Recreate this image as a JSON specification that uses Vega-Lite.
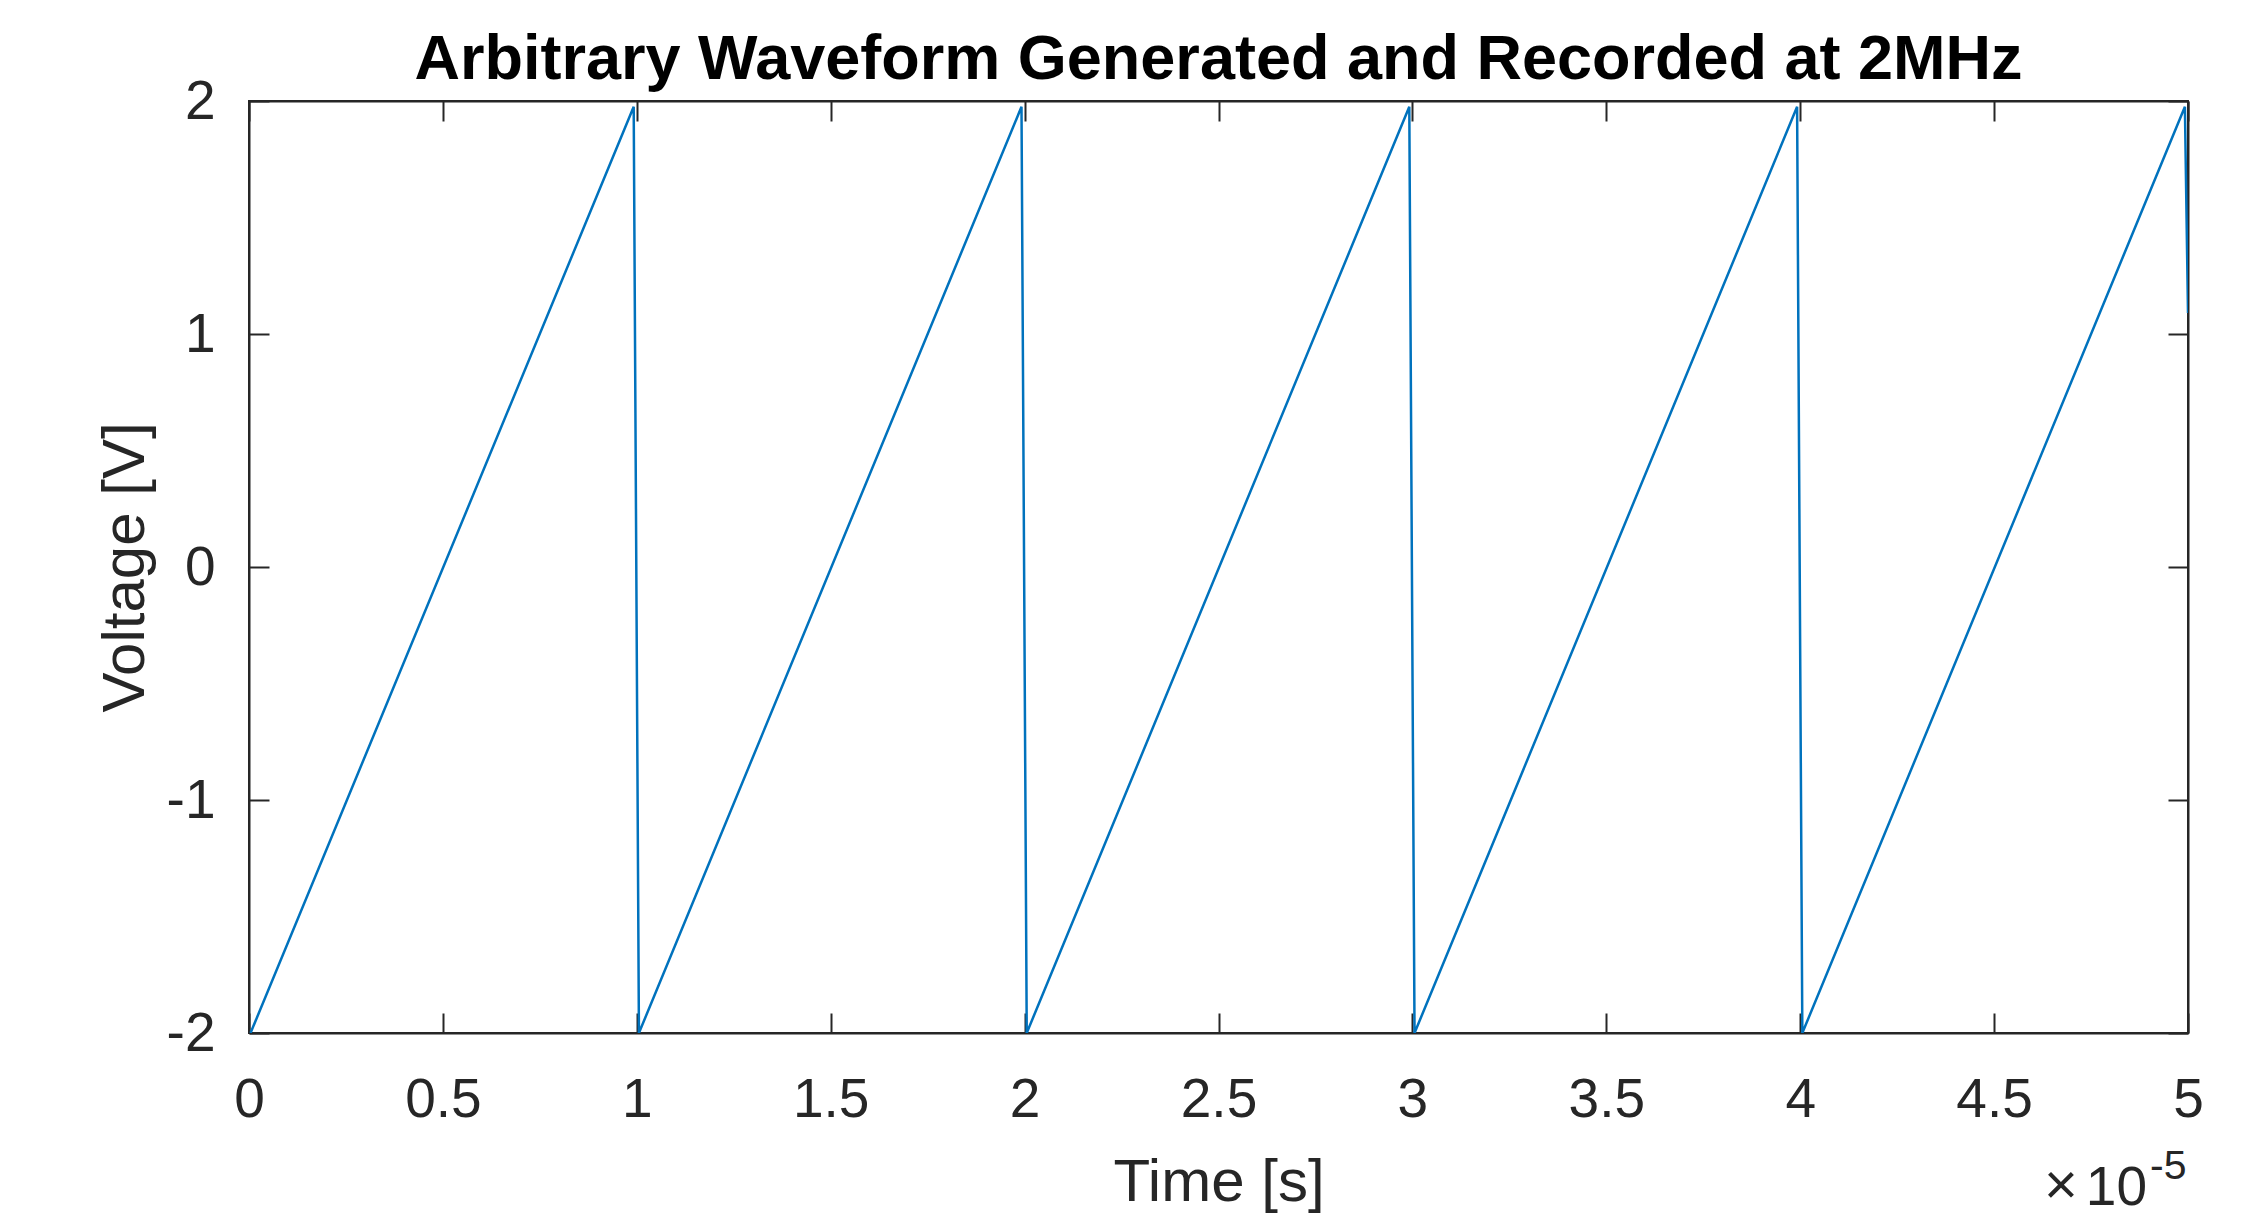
{
  "$schema": "https://vega.github.io/schema/vega-lite/v6.json",
  "width": 1939,
  "height": 932,
  "autosize": "none",
  "padding": {"left": 249, "top": 101, "right": 55, "bottom": 184},
  "background": "white",
  "title": {
    "text": "Arbitrary Waveform Generated and Recorded at 2MHz",
    "font": "Liberation Sans",
    "fontSize": 63,
    "fontWeight": "bold",
    "color": "#000000",
    "anchor": "middle",
    "baseline": "alphabetic",
    "offset": 21,
    "dy": 89
  },
  "data": {
    "values": [
      {"time_s": 4e-8, "voltage_V": -2},
      {"time_s": 9.92e-6, "voltage_V": 1.975},
      {"time_s": 1.0055e-5, "voltage_V": -2},
      {"time_s": 1.992e-5, "voltage_V": 1.975},
      {"time_s": 2.0055e-5, "voltage_V": -2},
      {"time_s": 2.992e-5, "voltage_V": 1.975},
      {"time_s": 3.0055e-5, "voltage_V": -2},
      {"time_s": 3.992e-5, "voltage_V": 1.975},
      {"time_s": 4.0055e-5, "voltage_V": -2},
      {"time_s": 4.992e-5, "voltage_V": 1.975},
      {"time_s": 5.0e-5, "voltage_V": 1.09}
    ]
  },
  "config": {
    "view": {"stroke": "#262626", "strokeWidth": 2},
    "axis": {
      "grid": false,
      "domainColor": "#262626",
      "domainWidth": 2,
      "tickColor": "#262626",
      "tickWidth": 2,
      "labelFont": "Liberation Sans",
      "labelFontSize": 55,
      "labelColor": "#262626",
      "titleFont": "Liberation Sans",
      "titleFontSize": 60,
      "titleColor": "#262626",
      "titleFontWeight": "normal"
    }
  },
  "resolve": {"axis": {"x": "independent", "y": "independent"}},
  "layer": [
    {
      "mark": {"type": "line", "color": "#0072BD", "strokeWidth": 2.5, "clip": true},
      "encoding": {
        "x": {
          "field": "time_s",
          "type": "quantitative",
          "scale": {"domain": [0, 5e-5], "nice": false, "zero": false},
          "axis": {
            "orient": "bottom",
            "title": "Time [s]",
            "values": [0, 5e-6, 1e-5, 1.5e-5, 2e-5, 2.5e-5, 3e-5, 3.5e-5, 4e-5, 4.5e-5, 5e-5],
            "labelExpr": "round(datum.value * 1e6) / 10",
            "tickSize": -20,
            "labelPadding": 60,
            "labelFlush": false,
            "labelOverlap": false,
            "titleX": 969.5,
            "titleY": 167,
            "titleBaseline": "alphabetic"
          }
        },
        "y": {
          "field": "voltage_V",
          "type": "quantitative",
          "scale": {"domain": [-2, 2], "nice": false, "zero": false},
          "axis": {
            "orient": "left",
            "title": "Voltage [V]",
            "values": [-2, -1, 0, 1, 2],
            "labelExpr": "datum.value + ''",
            "tickSize": -20,
            "labelPadding": 54,
            "labelFlush": false,
            "labelOverlap": false,
            "titleX": -106,
            "titleY": 466,
            "titleAngle": -90,
            "titleBaseline": "alphabetic"
          }
        }
      }
    },
    {
      "mark": {"type": "line", "opacity": 0},
      "encoding": {
        "x": {
          "field": "time_s",
          "type": "quantitative",
          "axis": {
            "orient": "top",
            "title": null,
            "labels": false,
            "values": [0, 5e-6, 1e-5, 1.5e-5, 2e-5, 2.5e-5, 3e-5, 3.5e-5, 4e-5, 4.5e-5, 5e-5],
            "tickSize": -20
          }
        },
        "y": {
          "field": "voltage_V",
          "type": "quantitative",
          "axis": {
            "orient": "right",
            "title": null,
            "labels": false,
            "values": [-2, -1, 0, 1, 2],
            "tickSize": -20
          }
        }
      }
    },
    {
      "data": {"values": [{"label": "10"}]},
      "mark": {"type": "text", "font": "Liberation Sans", "fontSize": 55, "color": "#262626", "align": "right", "baseline": "alphabetic", "dx": -41, "dy": 172},
      "encoding": {
        "x": {"datum": 5e-5, "type": "quantitative", "axis": null},
        "y": {"datum": -2, "type": "quantitative", "axis": null},
        "text": {"field": "label"}
      }
    },
    {
      "data": {"values": [{"label": "×"}]},
      "mark": {"type": "text", "font": "Liberation Sans", "fontSize": 58, "fontWeight": "normal", "color": "#262626", "align": "center", "baseline": "alphabetic", "dx": -127, "dy": 171},
      "encoding": {
        "x": {"datum": 5e-5, "type": "quantitative", "axis": null},
        "y": {"datum": -2, "type": "quantitative", "axis": null},
        "text": {"field": "label"}
      }
    },
    {
      "data": {"values": [{"label": "-5"}]},
      "mark": {"type": "text", "font": "Liberation Sans", "fontSize": 41, "color": "#262626", "align": "left", "baseline": "alphabetic", "dx": -38, "dy": 146},
      "encoding": {
        "x": {"datum": 5e-5, "type": "quantitative", "axis": null},
        "y": {"datum": -2, "type": "quantitative", "axis": null},
        "text": {"field": "label"}
      }
    }
  ]
}
